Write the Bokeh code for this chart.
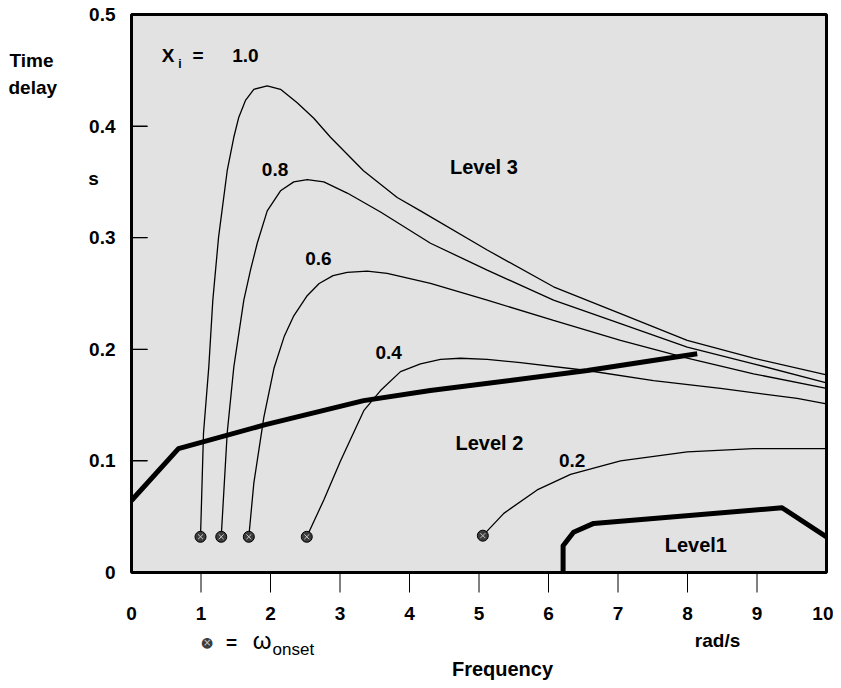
from bokeh.plotting import figure
from bokeh.models import FixedTicker, Label, Range1d, LinearAxis
from bokeh.core.properties import value
from bokeh.embed import file_html
from bokeh.resources import INLINE

# ---------------- data ----------------
x_label_ticks = [0, 1, 2, 3, 4, 5, 6, 7, 8, 9, 10]
x_mark_ticks = [1, 2, 3, 4, 5, 6, 7, 8, 9]
y_ticks = [0, 0.1, 0.2, 0.3, 0.4, 0.5]
y_mark_ticks = [0.1, 0.2, 0.3, 0.4]
y_tick_labels = ["0", "0.1", "0.2", "0.3", "0.4", "0.5"]

xi_10_x = [0.993, 1.036, 1.112, 1.170, 1.252, 1.377, 1.472, 1.544, 1.640, 1.760, 1.953,
           2.144, 2.384, 2.623, 2.863, 3.338, 3.823, 4.158, 5.118, 6.072, 7.036, 7.996, 8.950, 10.0]
xi_10_y = [0.032, 0.125, 0.184, 0.244, 0.300, 0.360, 0.390, 0.408, 0.423, 0.433, 0.436,
           0.433, 0.421, 0.407, 0.390, 0.360, 0.336, 0.324, 0.289, 0.256, 0.232, 0.208, 0.192, 0.177]

xi_08_x = [1.291, 1.377, 1.472, 1.616, 1.712, 1.809, 1.953, 2.144, 2.335, 2.528, 2.767,
           3.104, 3.583, 4.302, 5.118, 6.072, 7.036, 7.996, 8.950, 10.0]
xi_08_y = [0.032, 0.125, 0.184, 0.244, 0.271, 0.295, 0.324, 0.342, 0.350, 0.352, 0.350,
           0.340, 0.323, 0.295, 0.271, 0.244, 0.223, 0.202, 0.187, 0.170]

xi_06_x = [1.688, 1.760, 1.904, 2.050, 2.200, 2.335, 2.528, 2.700, 2.900, 3.104, 3.391, 3.679,
           4.302, 5.118, 6.072, 7.036, 7.996, 8.950, 10.0]
xi_06_y = [0.032, 0.080, 0.139, 0.183, 0.212, 0.230, 0.248, 0.259, 0.266, 0.269, 0.270, 0.268,
           0.259, 0.244, 0.226, 0.208, 0.192, 0.178, 0.165]

xi_04_x = [2.522, 2.767, 3.007, 3.342, 3.583, 3.871, 4.158, 4.446, 4.734, 5.118, 5.597,
           6.557, 7.511, 8.475, 9.578, 10.0]
xi_04_y = [0.032, 0.065, 0.100, 0.145, 0.163, 0.180, 0.187, 0.191, 0.192, 0.191, 0.188,
           0.181, 0.172, 0.165, 0.156, 0.151]

xi_02_x = [5.055, 5.357, 5.837, 6.317, 7.036, 7.996, 8.950, 10.0]
xi_02_y = [0.033, 0.053, 0.074, 0.088, 0.100, 0.108, 0.111, 0.111]

onset_x = [0.993, 1.291, 1.688, 2.522, 5.055]
onset_y = [0.032, 0.032, 0.032, 0.032, 0.033]

lvl23_x = [0.0, 0.676, 1.90, 3.34, 4.30, 6.56, 8.14]
lvl23_y = [0.0645, 0.111, 0.132, 0.154, 0.163, 0.181, 0.196]

lvl1_x = [6.21, 6.21, 6.36, 6.65, 9.36, 10.0]
lvl1_y = [0.0, 0.024, 0.036, 0.044, 0.058, 0.032]

# ---------------- figure ----------------
FONT = "Liberation Sans"
FRAME_W, FRAME_H = 695, 558
p = figure(frame_width=FRAME_W, frame_height=FRAME_H, output_backend="svg", toolbar_location=None,
           x_range=Range1d(0, 10), y_range=Range1d(0, 0.5),
           x_axis_type=None, y_axis_type=None,
           min_border_left=131, min_border_right=7, min_border_top=14, min_border_bottom=108)
p.background_fill_color = "#e2e2e2"
p.outline_line_color = "black"
p.outline_line_width = 3


def style_labels(ax):
    ax.major_label_text_font = FONT
    ax.major_label_text_font_style = "bold"
    ax.major_label_text_font_size = "19px"
    ax.major_label_text_color = "black"


x_ax = LinearAxis(ticker=FixedTicker(ticks=x_label_ticks),
                  major_tick_in=0, major_tick_out=20, major_tick_line_color=None,
                  axis_line_color=None, major_label_standoff=14)
style_labels(x_ax)
p.add_layout(x_ax, "below")

y_ax = LinearAxis(ticker=FixedTicker(ticks=y_ticks),
                  major_label_overrides={t: l for t, l in zip(y_ticks, y_tick_labels)},
                  major_tick_in=16, major_tick_out=0,
                  axis_line_color=None, major_label_standoff=16)
style_labels(y_ax)
p.add_layout(y_ax, "left")

# tick marks (x: 20 px outward at 1..9, y: 16 px inward at 0.1..0.4), lengths in data units
x_tick_len = 20 * 0.5 / FRAME_H
y_tick_len = 16 * 10 / FRAME_W
p.segment(x0=x_mark_ticks, y0=[0] * len(x_mark_ticks), x1=x_mark_ticks,
          y1=[-x_tick_len] * len(x_mark_ticks), line_color="black", line_width=1, level="overlay")
p.segment(x0=[0] * len(y_mark_ticks), y0=y_mark_ticks, x1=[y_tick_len] * len(y_mark_ticks),
          y1=y_mark_ticks, line_color="black", line_width=1.2, level="overlay")

# curves
for xs, ys in [(xi_10_x, xi_10_y), (xi_08_x, xi_08_y), (xi_06_x, xi_06_y),
               (xi_04_x, xi_04_y), (xi_02_x, xi_02_y)]:
    p.line(xs, ys, line_color="black", line_width=1.3)

p.line(lvl23_x, lvl23_y, line_color="black", line_width=5, line_join="round")
p.line(lvl1_x, lvl1_y, line_color="black", line_width=5, line_join="round")

p.scatter(onset_x, onset_y, marker="circle", size=11, fill_color="#3c3c3c",
          line_color="black", line_width=1)
p.scatter(onset_x, onset_y, marker="x", size=7, line_color="#c8c8c8", line_width=1)


def lab(x, y, text, size="19px", style="bold", align="center"):
    p.add_layout(Label(x=x, y=y, text=text, text_font=FONT, text_font_size=size,
                       text_font_style=style, text_align=align, text_baseline="middle",
                       text_color="black"))


# in-plot labels
lab(0.525, 0.463, "X")
lab(0.698, 0.4556, "i", size="12px")
lab(0.957, 0.463, "=")
lab(1.64, 0.463, "1.0")
lab(2.065, 0.3607, "0.8")
lab(2.69, 0.2818, "0.6")
lab(3.70, 0.1967, "0.4")
lab(6.34, 0.1004, "0.2")
lab(5.07, 0.363, "Level 3", size="20px")
lab(5.15, 0.116, "Level 2", size="20px")
lab(8.12, 0.0246, "Level1", size="20px")


# texts outside the frame: text glyphs on the overlay level (not clipped)
def out_text(x, y, text, size="19px", style="bold", align="center", font=FONT, color="black"):
    p.text(x=[x], y=[y], text=[text], text_font=value(font), text_font_size=value(size),
           text_font_style=style, text_align=align, text_baseline="middle",
           text_color=color, level="overlay")


out_text(-1.755, 0.4588, "Time", align="left")
out_text(-1.770, 0.4346, "delay", align="left")
out_text(-0.547, 0.3530, "s")
out_text(8.432, -0.0609, "rad/s")
out_text(5.338, -0.0869, "Frequency", size="20px")
out_text(1.089, -0.0625, "\u25cf", size="14px", style="normal", font="DejaVu Sans", color="#3c3c3c")
out_text(1.089, -0.0625, "\u00d7", size="10px", style="normal", font="DejaVu Sans", color="#c8c8c8")
out_text(1.439, -0.0627, "=")
out_text(1.878, -0.0609, "\u03c9", size="24px", style="normal")
out_text(2.029, -0.0690, "onset", size="17px", style="normal", align="left")

open("out.html", "w").write(file_html(p, INLINE))
